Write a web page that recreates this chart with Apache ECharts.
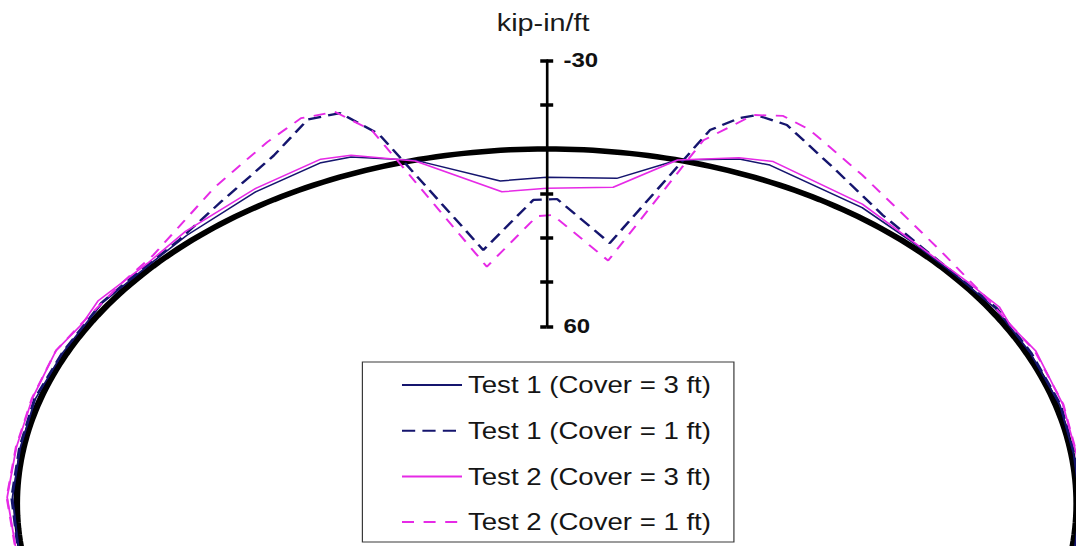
<!DOCTYPE html>
<html>
<head>
<meta charset="utf-8">
<title>Bending moment around the pipe</title>
<script src="https://cdn.jsdelivr.net/npm/echarts@6.0.0/dist/echarts.min.js"></script>
<style>
  html, body { margin: 0; padding: 0; background: #fff; overflow: hidden; }
  #wrap { width: 1076px; height: 546px; overflow: hidden; }
  /* the figure is drawn at natural width and widened horizontally */
  #chart { width: 897px; height: 546px; transform: scaleX(1.2); transform-origin: 0 0; }
</style>
</head>
<body>
<div id="wrap"><div id="chart"></div></div>
<script>
// Wall bending moment (kip-in/ft) around the pipe, as [angle from right springline in degrees, moment].
// Positive moments are drawn inside the pipe wall line, negative ones outside.
const test1Cover3 = [[-8,-0.6],[0,-0.8],[8,-0.5],[16,-0.9],[25,-0.8],[33,-1.2],[40,-0.6],[47,-1.2],[54.5,-3.0],[66.2,-5.2],[69.5,-4.5],[75.7,0],[81.8,8.8],[90,9.6],[95.5,10.3],[104.4,0],[110.7,-5.4],[113.9,-6.2],[122,-4.4],[131.9,-2.0],[138,-1.0],[146,-1.4],[155,-0.9],[163,-1.1],[171,-0.7],[179,-1.0],[188,-0.6]];
const test1Cover1 = [[-8,-0.8],[0,-1.0],[8,-0.7],[16,-1.1],[25,-1.0],[33,-1.5],[40,-0.8],[46,-1.5],[52.1,-3.8],[60.1,-10.7],[67.0,-19.2],[70.1,-19.8],[71.5,-17.6],[73.7,-11.7],[80.8,30.7],[88.7,16.9],[91.7,17.2],[99.5,33.0],[106.9,-10.7],[109.5,-20.2],[112.6,-20.8],[117.7,-13.0],[125.8,-6.0],[133.1,-2.0],[140,-1.2],[146,-1.6],[155,-1.0],[163,-1.3],[171,-0.9],[179,-1.2],[188,-0.8]];
const test2Cover3 = [[-8,-1.3],[0,-1.6],[8,-1.1],[16,-1.6],[25,-2.2],[30,-1.1],[33,-2.2],[38,-1.3],[41.6,-1.0],[54.8,-4.0],[66.1,-6.6],[69.6,-4.9],[75.7,0],[82,11.9],[90,13.3],[95.5,14.0],[104.4,0.3],[110.6,-5.9],[113.7,-7.3],[121.7,-5.4],[131.6,-3.2],[138,-1.6],[146,-2.6],[150,-1.5],[155,-2.6],[163,-1.8],[171,-1.6],[179,-2.2],[188,-1.2]];
const test2Cover1 = [[-8,-1.4],[0,-1.7],[8,-1.2],[16,-1.7],[25,-2.0],[30,-1.2],[35,-1.5],[43.6,-3.5],[49.4,-6.2],[57.3,-12.2],[64.8,-19.8],[67.8,-21.7],[70.4,-19.6],[73.9,-8.0],[80.4,36.6],[89.2,22.3],[91.3,22.7],[99.6,38.7],[107.4,-12.3],[109.9,-21.0],[113.1,-21.8],[117.4,-17.7],[125.1,-10.8],[136.7,-2.5],[142,-1.8],[150,-1.7],[155,-2.6],[163,-1.9],[171,-1.7],[179,-2.3],[188,-1.3]];

const seriesNames = ['Test 1 (Cover = 3 ft)', 'Test 1 (Cover = 1 ft)', 'Test 2 (Cover = 3 ft)', 'Test 2 (Cover = 1 ft)'];
const axisTitle = 'kip-in/ft';
const axisMin = -30, axisMax = 60, axisStep = 15;
const axisLabelsShown = [-30, 60];

// ---- drawing geometry ----
const W = 897, H = 546;              // natural drawing size
const CX = 455.6, CY = 503.6;        // pipe centre in the drawing
const KX = 3.68, KY = 2.955;         // px per kip-in/ft, horizontal / vertical
const R0 = 120;                      // zero-moment wall line, in kip-in/ft from the centre

// moment m at angle a -> point in the pipe's plane, moment plotted radially inward
function toXY(p) {
  const a = p[0] * Math.PI / 180, r = R0 - p[1];
  return [r * Math.cos(a), r * Math.sin(a)];
}

// pipe wall line (zero moment)
const wallAngles = [];
for (let a = -12; a <= 192; a += 1) wallAngles.push(a);
const wallLine = wallAngles.map(a => toXY([a, 0]));

const NAVY = '#15156e', MAGENTA = '#e62ae6';
const FONT = "'Liberation Sans', Arial, sans-serif";

const chart = echarts.init(document.getElementById('chart'), null, { renderer: 'svg' });

const axisTop = CY - (R0 - axisMin) * KY;
const axisLen = (axisMax - axisMin) * KY;

function momentSeries(name, data, color, width, dash) {
  return {
    name, type: 'line', data: data.map(toXY),
    xAxisIndex: 0, yAxisIndex: 0, symbol: 'none', clip: true, z: 3,
    lineStyle: { color, width, type: dash || 'solid' },
    itemStyle: { color },
    emphasis: { disabled: true }
  };
}

chart.setOption({
  animation: false,
  backgroundColor: '#fff',
  textStyle: { fontFamily: FONT },
  title: {
    text: axisTitle, left: 414, top: 11, padding: 0,
    textStyle: { fontFamily: FONT, fontSize: 24, fontWeight: 'normal', color: '#1a1a1a' }
  },
  legend: {
    data: seriesNames,
    orient: 'vertical', left: 302, top: 362,
    padding: [9, 19, 6, 32],
    itemWidth: 50, itemHeight: 14, itemGap: 17.7,
    borderColor: '#3a3a3a', borderWidth: 1, backgroundColor: '#fff',
    selectedMode: false,
    // legend keys show the line style only
    itemStyle: { opacity: 0, color: 'transparent', borderWidth: 0 },
    textStyle: { fontFamily: FONT, fontSize: 23, color: '#151515', lineHeight: 28 }
  },
  grid: [
    { left: 0, top: 0, width: W, height: H },
    { left: CX, top: axisTop, width: 1, height: axisLen }
  ],
  xAxis: [
    { gridIndex: 0, type: 'value', min: -CX / KX, max: (W - CX) / KX, show: false },
    { gridIndex: 1, type: 'value', min: 0, max: 1, show: false }
  ],
  yAxis: [
    { gridIndex: 0, type: 'value', min: -(H - CY) / KY, max: CY / KY, show: false },
    {
      gridIndex: 1, type: 'value', inverse: true, min: axisMin, max: axisMax, interval: axisStep,
      position: 'left', z: 10,
      axisLine: { show: true, lineStyle: { color: '#000', width: 2.2 } },
      axisTick: { show: true, inside: false, length: 5.4, lineStyle: { color: '#000', width: 3.5 } },
      axisLabel: { show: false }, splitLine: { show: false }
    },
    {
      gridIndex: 1, type: 'value', inverse: true, min: axisMin, max: axisMax, interval: axisStep,
      position: 'left', z: 10,
      axisLine: { show: false },
      axisTick: { show: true, inside: true, length: 5.4, lineStyle: { color: '#000', width: 3.5 } },
      axisLabel: {
        show: true, inside: true, margin: 14,
        fontFamily: FONT, fontSize: 20, fontWeight: 'bold', color: '#111',
        formatter: v => axisLabelsShown.includes(v) ? String(v) : ''
      },
      splitLine: { show: false }
    }
  ],
  series: [
    {
      name: 'wall', type: 'line', data: wallLine, xAxisIndex: 0, yAxisIndex: 0,
      symbol: 'none', clip: true, z: 2, silent: true,
      lineStyle: { color: '#000', width: 5.5 }
    },
    momentSeries(seriesNames[0], test1Cover3, NAVY, 1.5),
    momentSeries(seriesNames[1], test1Cover1, NAVY, 2.2, [11, 6]),
    momentSeries(seriesNames[2], test2Cover3, MAGENTA, 1.5),
    momentSeries(seriesNames[3], test2Cover1, MAGENTA, 1.8, [10, 8])
  ]
});
</script>
</body>
</html>
